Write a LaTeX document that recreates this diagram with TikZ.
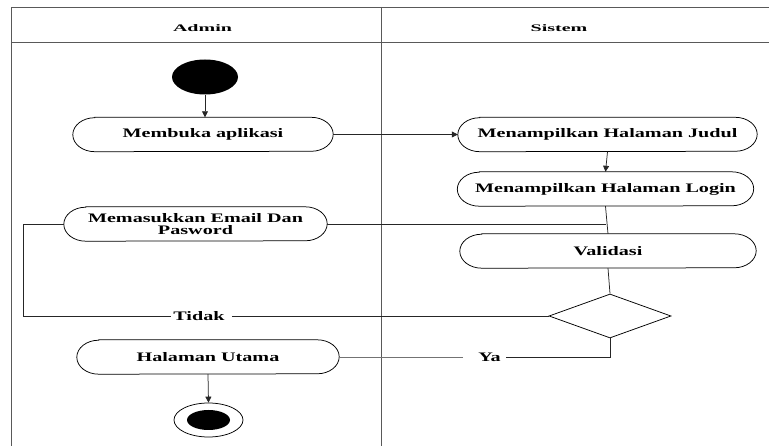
\documentclass[tikz,border=0pt]{standalone}
\usepackage{fontspec}
\setmainfont{Liberation Serif}
\newfontfamily\wideserif{Liberation Serif}[FakeStretch=1.55]
\newfontfamily\headserif{Liberation Serif}[FakeStretch=2.0]
\usetikzlibrary{shapes.geometric,arrows.meta}

\tikzset{
  lane/.style={draw=black!65, line width=0.9pt},
  flow/.style={draw=black!85, line width=0.75pt},
  arr/.style={flow, -{Triangle[length=6pt,width=6pt]}},
  lbl/.style={font=\wideserif\bfseries\fontsize{13}{12}\selectfont, inner sep=0pt},
  head/.style={font=\headserif\bfseries\fontsize{10}{12}\selectfont, inner sep=0pt},
  % activity: flat top and bottom, half-elliptic ends
  act/.style={lbl, align=center, minimum height=34pt, minimum width=#1,
    append after command={\pgfextra{\begin{pgfinterruptpath}
      \draw[line width=0.75pt]
        ([xshift=22pt]\tikzlastnode.north west) -- ([xshift=-22pt]\tikzlastnode.north east)
        arc[start angle=90, end angle=-90, x radius=22pt, y radius=17pt]
        -- ([xshift=22pt]\tikzlastnode.south west)
        arc[start angle=270, end angle=90, x radius=22pt, y radius=17pt] -- cycle;
    \end{pgfinterruptpath}}}},
  startdot/.style={ellipse, fill=black, minimum width=66pt, minimum height=35pt, inner sep=0pt},
  endring/.style={ellipse, draw, line width=0.75pt, minimum width=69pt, minimum height=34pt, inner sep=0pt},
  enddot/.style={ellipse, fill=black, minimum width=43pt, minimum height=20pt, inner sep=0pt},
  decision/.style={diamond, draw, line width=0.75pt, aspect=2.77, minimum width=122pt, minimum height=44pt, inner sep=0pt},
}

\begin{document}
\begin{tikzpicture}[x=1pt, y=-1pt]
\useasboundingbox (0,0) rectangle (769,446);

% swimlanes
\coordinate (tl) at (11,7);
\coordinate (tr) at (769,7);
\coordinate (hl) at (11,42);
\coordinate (hr) at (769,42);
\coordinate (bl) at (11,446);
\coordinate (mt) at (381,7);
\coordinate (mb) at (381,446);
\draw[lane] (tr) -- (tl) -- (bl);
\draw[lane] (hl) -- (hr);
\draw[lane] (mt) -- (mb);
\node[head] (admin) at (202.5,28) {Admin};
\node[head] (sistem) at (559,28) {Sistem};

% activities
\node[startdot] (start) at (205,77) {};
\node[act=260pt] (open) at (203,134.5) {Membuka aplikasi};
\node[act=299pt] (judul) at (607.5,134.5) {Menampilkan Halaman Judul};
\node[act=296pt] (login) at (605.5,189) {Menampilkan Halaman Login};
\node[act=263pt] (input) at (195.5,224) {Memasukkan Email Dan\\Pasword};
\node[act=296pt] (valid) at (608,251) {Validasi};
\node[decision] (dec) at (610,316) {};
\node[act=262pt] (home) at (208,357) {Halaman Utama};
\node[endring] (end) at (208.5,420) {};
\node[enddot] (enddot) at (end.center) {};

% guard labels
\node[lbl] (tidak) at (199,316) {Tidak};
\node[lbl] (ya) at (489.5,357) {Ya};
\coordinate (loop) at (23,316);

% flows
\draw[arr] (start.south) -- (start.south |- open.north);
\draw[arr] (open.east) -- (judul.west);
\draw[arr] (judul.south) -- (login.north);
\draw[flow] (login.south) -- (valid.north);
\draw[flow] (input.east) -- (input.east -| login.south);
\draw[flow] (valid.south) -- (dec.north);
\draw[flow] (input.west) -| (loop) -- ([xshift=-2pt]tidak.west);
\draw[flow] ([xshift=7pt]tidak.east) -- (dec.west);
\draw[flow] (dec.south) |- ([xshift=5pt]ya.east);
\draw[flow, draw=black!55] ([xshift=-15pt]ya.west) -- (home.east);
\draw[arr] (home.south) -- (end.north);
\end{tikzpicture}
\end{document}
